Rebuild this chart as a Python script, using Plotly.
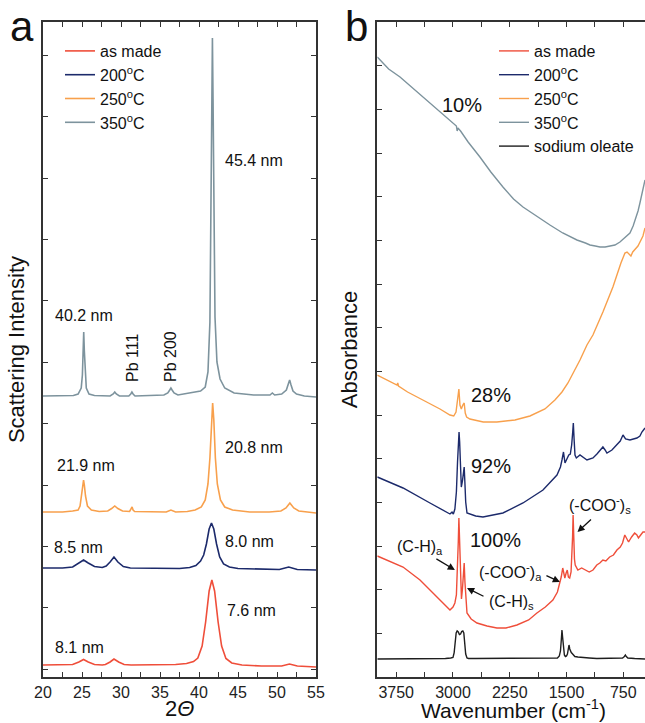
import plotly.graph_objects as go

# ---------------- Panel a : XRD (2-theta vs intensity, stacked) ----------------
xrd_asmade_2theta = [20.0, 22.5, 23.8, 24.6, 25.2, 25.8, 26.6, 27.6, 28.0, 28.6, 29.1, 29.7, 30.4, 31.3, 34.0, 37.0, 38.4, 39.3, 39.85, 40.4, 40.85, 41.3, 41.65, 42.0, 42.45, 42.9, 43.45, 44.2, 45.5, 48.0, 50.6, 51.6, 52.6, 55.0]
xrd_asmade_int = [12, 12, 12.5, 15, 17.5, 15, 12.5, 12, 12.5, 15, 18, 15, 12.5, 12, 12, 12.5, 13.5, 15.5, 19, 31, 55, 86, 97, 86, 55, 31, 18.5, 14, 12, 11, 11, 13, 11, 10]

xrd_200_2theta = [20.0, 22.5, 23.8, 24.6, 25.2, 25.8, 26.6, 27.6, 28.1, 28.6, 29.1, 29.6, 30.3, 31.2, 34.0, 37.5, 38.8, 39.6, 40.2, 40.6, 40.95, 41.3, 41.6, 41.9, 42.25, 42.65, 43.15, 43.9, 45.0, 47.0, 50.3, 51.5, 52.6, 55.0]
xrd_200_int = [109, 109, 110, 114, 117, 114, 110.5, 109.5, 111, 115, 120, 115, 110.5, 109, 108.5, 108.5, 109.5, 111.5, 116, 122, 133, 148, 154, 148, 133, 120, 113, 110, 108.5, 108, 107.5, 110, 107.5, 107]

xrd_250_2theta = [20.0, 22.5, 23.8, 24.5, 24.75, 24.95, 25.1, 25.2, 25.3, 25.45, 25.7, 26.2, 27.2, 28.3, 28.8, 29.2, 29.6, 30.2, 31.1, 31.3, 31.42, 31.55, 31.75, 35.8, 36.4, 37.0, 38.5, 39.5, 40.3, 40.8, 41.15, 41.4, 41.6, 41.75, 41.9, 42.1, 42.35, 42.75, 43.3, 44.3, 46.5, 49.0, 50.5, 51.15, 51.45, 51.65, 51.85, 52.15, 52.8, 55.0]
xrd_250_int = [165, 165, 166, 167, 171, 181, 192, 197, 192, 181, 171, 167, 165.5, 166, 168.5, 171, 168.5, 166, 165.5, 168, 170, 167, 165.5, 165, 167, 165, 165.5, 167, 170, 177, 193, 219, 257, 274, 257, 219, 193, 177, 170, 167, 165, 165, 166, 169, 172, 174, 172, 169, 166, 164]

xrd_350_2theta = [20.0, 22.0, 23.9, 24.5, 24.9, 25.05, 25.14, 25.22, 25.3, 25.4, 25.55, 25.9, 26.6, 28.6, 29.0, 29.2, 29.4, 29.8, 31.0, 31.25, 31.4, 31.55, 31.8, 35.5, 36.0, 36.25, 36.4, 36.55, 36.8, 37.3, 39.0, 40.2, 40.8, 41.15, 41.4, 41.55, 41.65, 41.72, 41.8, 41.9, 42.05, 42.3, 42.7, 43.3, 44.5, 47.0, 49.1, 49.4, 49.7, 50.6, 51.2, 51.45, 51.62, 51.8, 52.05, 52.5, 53.5, 55.0]
xrd_350_int = [281, 281, 281.5, 283, 289, 302, 326, 345, 326, 302, 289, 283, 281.5, 281, 283, 285, 283, 281, 281, 283, 285, 283, 281, 282, 284, 287, 289, 287, 284, 282, 284, 286, 290, 305, 355, 460, 585, 639, 578, 455, 360, 315, 298, 289, 284, 282, 282, 284, 282, 283, 287, 293, 297, 292, 286, 283, 281, 280]

xrd_names = ["as made", "200<sup>o</sup>C", "250<sup>o</sup>C", "350<sup>o</sup>C"]
xrd_sizes = ["45.4 nm", "40.2 nm", "21.9 nm", "20.8 nm", "8.5 nm", "8.0 nm", "7.6 nm", "8.1 nm"]
xrd_size_2theta = [43.08, 21.28, 21.54, 43.08, 21.15, 43.08, 43.33, 21.28]
xrd_size_int = [517, 362, 212, 230, 130, 136, 67, 30]
pb_labels = ["Pb 111", "Pb 200"]
pb_2theta = [31.41, 36.28]
pb_int = [319, 321]

# x tick marks of panel a (major ones labelled)
xrd_tickvals = [20, 22.5, 25, 27.5, 30, 32.5, 35, 37.5, 40, 42.5, 45, 47.5, 50, 52.5, 55]
xrd_ticktext = ["20", "", "25", "", "30", "", "35", "", "40", "", "45", "", "50", "", "55"]

# ---------------- Panel b : FTIR (wavenumber vs absorbance, stacked) ----------------
ftir_asmade_wn = [4000, 3850, 3660, 3436, 3211, 3100, 3040, 3000, 2975, 2955, 2940, 2930, 2922, 2912, 2900, 2888, 2875, 2862, 2852, 2842, 2830, 2815, 2760, 2683, 2550, 2420, 2300, 2155, 2000, 1891, 1780, 1680, 1620, 1587, 1570, 1550, 1535, 1522, 1505, 1490, 1475, 1458, 1440, 1428, 1420, 1413, 1405, 1395, 1385, 1370, 1350, 1300, 1250, 1200, 1150, 1100, 1060, 1020, 980, 930, 880, 834, 790, 760, 730, 700, 680, 640, 600, 570, 550, 520, 490, 463]
ftir_asmade_abs = [121, 116, 110, 97, 80, 72, 67, 70, 74, 82, 105, 135, 159, 130, 95, 78, 88, 105, 114, 95, 75, 64, 58, 54, 51, 49, 49, 52, 57, 64, 70, 77, 85, 94, 100, 109, 103, 99, 104, 107, 100, 99, 105, 120, 140, 162, 140, 118, 112, 110, 107, 109, 107, 105, 107, 112, 114, 117, 116, 120, 122, 127, 130, 134, 142, 137, 135, 140, 144, 142, 139, 142, 145, 145]

ftir_200_wn = [4000, 3660, 3304, 3106, 3040, 3013, 2995, 2975, 2955, 2940, 2928, 2920, 2912, 2900, 2890, 2875, 2862, 2852, 2843, 2832, 2815, 2700, 2604, 2340, 2075, 1811, 1626, 1580, 1560, 1540, 1520, 1500, 1470, 1450, 1432, 1418, 1410, 1400, 1388, 1370, 1322, 1230, 1150, 1098, 1060, 1019, 990, 966, 900, 834, 790, 754, 720, 662, 620, 570, 530, 504, 463]
ftir_200_abs = [200, 189, 174, 166, 163, 165, 163, 168, 185, 215, 240, 245, 235, 200, 190, 196, 208, 210, 195, 175, 164, 161, 160, 164, 174, 187, 202, 210, 217, 225, 214, 218, 222, 223, 232, 245, 254, 238, 222, 219, 222, 217, 219, 223, 226, 230, 227, 224, 227, 232, 236, 242, 238, 237, 238, 239, 241, 245, 249]

ftir_250_wn = [4000, 3850, 3740, 3730, 3720, 3600, 3392, 3172, 3040, 2990, 2960, 2940, 2922, 2908, 2890, 2870, 2852, 2838, 2820, 2776, 2600, 2420, 2181, 1983, 1785, 1653, 1560, 1481, 1402, 1322, 1230, 1151, 1019, 887, 781, 728, 700, 670, 649, 625, 590, 556, 490, 463]
ftir_250_abs = [302, 296, 292, 294, 291, 285, 277, 268, 262, 261, 265, 275, 288, 272, 268, 272, 274, 264, 260, 258, 255, 255, 257, 261, 268, 277, 285, 294, 305, 317, 332, 342, 365, 390, 414, 424, 425, 422, 421, 425, 428, 431, 441, 449]

ftir_350_wn = [4000, 3850, 3700, 3500, 3304, 3100, 2974, 2955, 2945, 2935, 2900, 2800, 2644, 2500, 2340, 2200, 2075, 1900, 1719, 1550, 1362, 1250, 1190, 1120, 1058, 990, 926, 860, 794, 730, 662, 620, 583, 555, 530, 505, 490, 463]
ftir_350_abs = [620, 608, 600, 587, 574, 561, 552, 551, 546, 549, 546, 535, 520, 505, 490, 478, 470, 461, 452, 444, 437, 434, 432, 431, 430, 430, 431, 432, 435, 439, 444, 451, 459, 466, 474, 482, 487, 497]

ftir_oleate_wn = [4000, 3500, 3100, 3030, 3000, 2985, 2970, 2958, 2945, 2930, 2915, 2900, 2885, 2870, 2857, 2845, 2832, 2815, 2795, 2700, 2400, 2000, 1700, 1620, 1595, 1580, 1568, 1560, 1552, 1540, 1528, 1515, 1500, 1488, 1478, 1467, 1457, 1447, 1437, 1425, 1410, 1390, 1350, 1300, 1200, 1100, 1000, 900, 800, 760, 735, 722, 710, 690, 600, 463]
ftir_oleate_abs = [18, 18, 18.5, 19, 19.5, 24, 36, 44, 46, 45, 42.5, 43, 45.5, 46, 44, 34, 23, 19, 18.5, 18.5, 18.5, 18.5, 18.5, 19, 21, 26, 38, 47, 40, 28, 22, 20.5, 21, 23, 27, 32, 28, 25, 24.5, 23.5, 22, 20.5, 20, 19.5, 19, 18.5, 18.5, 18.5, 18.5, 19, 20.5, 22, 20.5, 19, 18.5, 18]

ftir_names = ["as made", "200<sup>o</sup>C", "250<sup>o</sup>C", "350<sup>o</sup>C", "sodium oleate"]
ftir_pct = ["10%", "28%", "92%", "100%"]
ftir_pct_wn = [2881, 2498, 2498, 2432]
ftir_pct_abs = [572, 282, 211, 137]

band_labels = ["(C-H)<sub>a</sub>", "(C-H)<sub>s</sub>", "(-COO<sup>-</sup>)<sub>a</sub>", "(-COO<sup>-</sup>)<sub>s</sub>"]
band_label_wn = [3766, 2552, 2684, 1493]
band_label_abs = [130, 75, 105, 172]
band_arrow_wn = [2975, 2815, 1587, 1355]
band_arrow_abs = [107, 89, 95, 145]
band_arrow_ax = [-20, 18, -15, 15]
band_arrow_ay = [-12, 9, -7, -14]

# x tick marks of panel b (major ones labelled)
ftir_tickvals = [3750, 3375, 3000, 2625, 2250, 1875, 1500, 1125, 750]
ftir_ticktext = ["3750", "", "3000", "", "2250", "", "1500", "", "750"]

# axis ranges
xrd_range = [20, 55]
ftir_range = [4000, 463]
y_range = [0, 655]

colors = ["#EF4E3A", "#1C2A6B", "#F8A04C", "#7D939D", "#1E1E1E"]

FONT = "Arial, Liberation Sans, sans-serif"
W, H = 645, 723
LINE = "#333333"

AX_L, AX_R, BX_L = 43, 316, 377.3
TOP, BOT = 22, 677
yd = [(H - BOT) / H, (H - TOP) / H]

fig = go.Figure()

xrd_sets = [(xrd_asmade_2theta, xrd_asmade_int), (xrd_200_2theta, xrd_200_int),
            (xrd_250_2theta, xrd_250_int), (xrd_350_2theta, xrd_350_int)]
for i, (xx, yy) in enumerate(xrd_sets):
    fig.add_trace(go.Scatter(x=xx, y=yy, mode="lines", name=xrd_names[i],
                             line=dict(color=colors[i], width=1.6),
                             xaxis="x", yaxis="y", legend="legend"))

ftir_sets = [(ftir_asmade_wn, ftir_asmade_abs), (ftir_200_wn, ftir_200_abs),
             (ftir_250_wn, ftir_250_abs), (ftir_350_wn, ftir_350_abs),
             (ftir_oleate_wn, ftir_oleate_abs)]
for i, (xx, yy) in enumerate(ftir_sets):
    fig.add_trace(go.Scatter(x=xx, y=yy, mode="lines", name=ftir_names[i],
                             line=dict(color=colors[i], width=1.4),
                             xaxis="x2", yaxis="y2", legend="legend2"))

ann = []
for t, x, y in zip(xrd_sizes, xrd_size_2theta, xrd_size_int):
    ann.append(dict(text=t, x=x, y=y, xref="x", yref="y", showarrow=False,
                    xanchor="left", yanchor="middle", font=dict(size=16, color="#111", family=FONT)))
for t, x, y in zip(pb_labels, pb_2theta, pb_int):
    ann.append(dict(text=t, x=x, y=y, xref="x", yref="y", showarrow=False, textangle=-90,
                    xanchor="center", yanchor="middle", font=dict(size=16, color="#111", family=FONT)))
for t, x, y in zip(ftir_pct, ftir_pct_wn, ftir_pct_abs):
    ann.append(dict(text=t, x=x, y=y, xref="x2", yref="y2", showarrow=False,
                    xanchor="center", yanchor="middle", font=dict(size=20, color="#111", family=FONT)))
for t, x, y in zip(band_labels, band_label_wn, band_label_abs):
    ann.append(dict(text=t, x=x, y=y, xref="x2", yref="y2", showarrow=False,
                    xanchor="left", yanchor="middle", font=dict(size=16, color="#111", family=FONT)))
for x, y, ax, ay in zip(band_arrow_wn, band_arrow_abs, band_arrow_ax, band_arrow_ay):
    ann.append(dict(text="", x=x, y=y, xref="x2", yref="y2", showarrow=True,
                    ax=ax, ay=ay, arrowhead=2, arrowsize=1.1, arrowwidth=1.3,
                    arrowcolor="#111", standoff=0))
ann.append(dict(text="a", x=8 / W, y=1 - 1 / H, xref="paper", yref="paper", showarrow=False,
                xanchor="left", yanchor="top", font=dict(size=42, color="#111", family=FONT)))
ann.append(dict(text="b", x=343 / W, y=1 - 1 / H, xref="paper", yref="paper", showarrow=False,
                xanchor="left", yanchor="top", font=dict(size=42, color="#111", family=FONT)))
ann.append(dict(text="2<i>Θ</i>", x=179.5 / W, y=1 - 708 / H, xref="paper", yref="paper",
                showarrow=False, xanchor="center", yanchor="middle",
                font=dict(size=22, color="#111", family=FONT)))
ann.append(dict(text="Wavenumber (cm<sup>-1</sup>)", x=513 / W, y=1 - 709 / H, xref="paper", yref="paper",
                showarrow=False, xanchor="center", yanchor="middle",
                font=dict(size=21, color="#111", family=FONT)))

tickfont = dict(size=16, color="#222", family=FONT)
common = dict(showline=True, linecolor=LINE, linewidth=2,
              ticks="inside", tickcolor=LINE, ticklen=5, tickwidth=1, showgrid=False,
              zeroline=False, automargin=False, tickfont=tickfont)

leg_font = dict(size=16, color="#111", family=FONT)
fig.update_layout(
    width=W, height=H, autosize=False, template="none",
    margin=dict(l=0, r=0, t=0, b=0),
    font=dict(family=FONT, color="#111"),
    xaxis=dict(domain=[AX_L / W, AX_R / W], range=xrd_range, tickmode="array",
               tickvals=xrd_tickvals, ticktext=xrd_ticktext, mirror="ticks", **common),
    yaxis=dict(domain=yd, range=y_range, tick0=7.7, dtick=61.4, showticklabels=False,
               mirror="ticks",
               title=dict(text="Scattering Intensity", font=dict(size=22, family=FONT), standoff=10),
               **common),
    xaxis2=dict(domain=[BX_L / W, 1.0], range=ftir_range, tickmode="array",
                tickvals=ftir_tickvals, ticktext=ftir_ticktext, anchor="y2", mirror="ticks", **common),
    yaxis2=dict(domain=yd, range=y_range, tick0=0, dtick=43.65, showticklabels=False,
                anchor="x2", mirror=False,
                title=dict(text="Absorbance", font=dict(size=22, family=FONT), standoff=12),
                **common),
    # right-hand ticks of panel b (its frame line lies just beyond the picture)
    yaxis3=dict(domain=yd, range=y_range, tick0=0, dtick=43.65, showticklabels=False,
                overlaying="y2", anchor="x2", side="right", showline=False,
                ticks="inside", tickcolor=LINE, ticklen=5, tickwidth=1,
                showgrid=False, zeroline=False, automargin=False),
    legend=dict(x=60 / W, y=1 - 34 / H, xanchor="left", yanchor="top",
                bgcolor="rgba(0,0,0,0)", borderwidth=0, font=leg_font),
    legend2=dict(x=494 / W, y=1 - 34 / H, xanchor="left", yanchor="top",
                 bgcolor="rgba(0,0,0,0)", borderwidth=0, font=leg_font),
    annotations=ann,
    showlegend=True,
)

fig.write_html("out.html")
